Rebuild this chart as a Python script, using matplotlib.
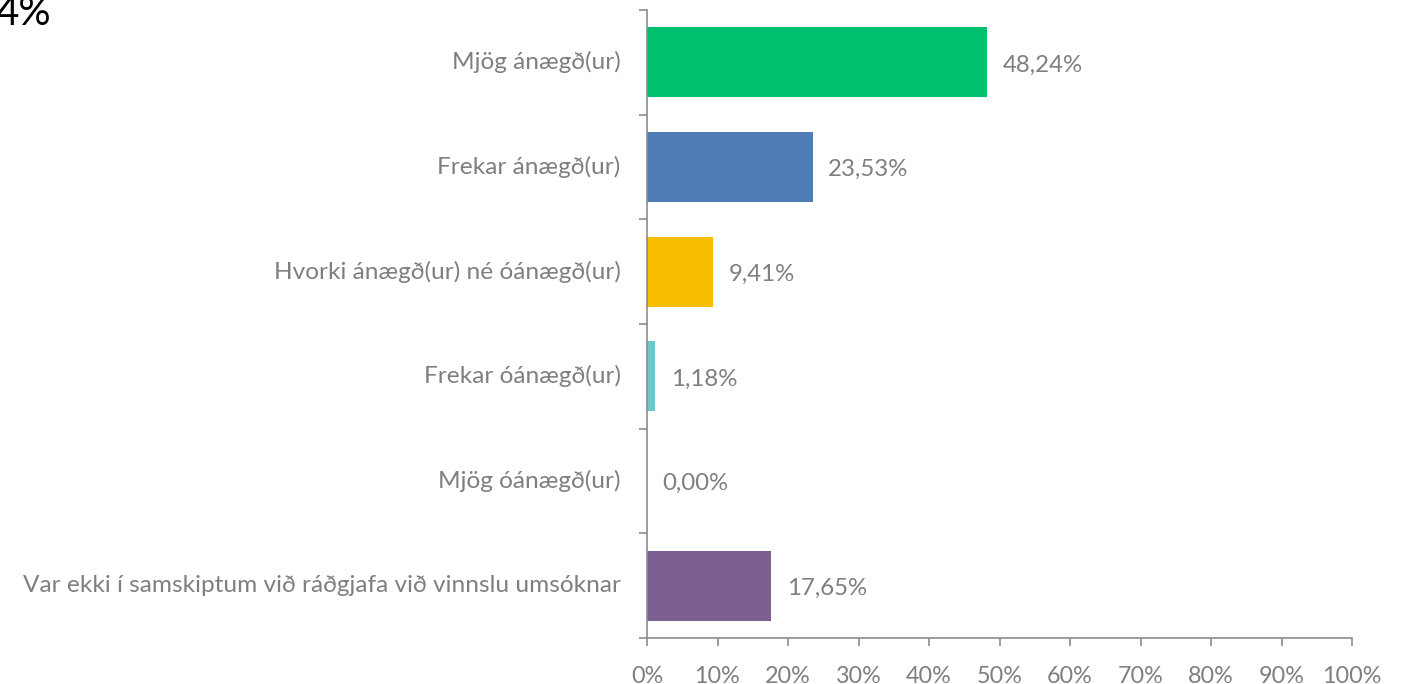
import matplotlib
matplotlib.use("Agg")
import matplotlib.pyplot as plt
from matplotlib.ticker import FixedLocator

categories = [
    "Mjög ánægð(ur)",
    "Frekar ánægð(ur)",
    "Hvorki ánægð(ur) né óánægð(ur)",
    "Frekar óánægð(ur)",
    "Mjög óánægð(ur)",
    "Var ekki í samskiptum við ráðgjafa við vinnslu umsóknar",
]
values = [48.24, 23.53, 9.41, 1.18, 0.00, 17.65]
value_labels = ["48,24%", "23,53%", "9,41%", "1,18%", "0,00%", "17,65%"]
colors = ["#00BF6F", "#507CB6", "#F9BE00", "#6BC8CD", "#D25F90", "#7D5E90"]
xticks = [0, 10, 20, 30, 40, 50, 60, 70, 80, 90, 100]
xtick_labels = [f"{t}%" for t in xticks]

plt.rcParams["font.family"] = ["Lato", "DejaVu Sans"]
gray = "#7f7f7f"
axis_gray = "#8c8c8c"

fig = plt.figure(figsize=(14.09, 6.84), dpi=100)
ax = fig.add_axes([647 / 1409, 1 - 638 / 684, (1352 - 647) / 1409, (638 - 10) / 684])

n = len(categories)
ypos = list(range(n))
ax.barh(ypos, values, height=0.67, color=colors, zorder=2)
ax.set_ylim(n - 0.5, -0.5)
ax.set_xlim(0, 100)

for y, v, lab in zip(ypos, values, value_labels):
    ax.annotate(lab, (v, y), xytext=(11, -2), textcoords="offset points",
                va="center", ha="left", fontsize=17.3, color=gray)

ax.set_yticks(ypos)
ax.set_yticklabels(categories, fontsize=17.6, color=gray, va="center")
for t in ax.get_yticklabels():
    t.set_y(t.get_position()[1])
ax.yaxis.set_minor_locator(FixedLocator([i - 0.5 for i in range(n + 1)]))
ax.tick_params(axis="y", which="major", length=0, pad=19)
ax.tick_params(axis="y", which="minor", length=6, color=axis_gray, width=1.2)

ax.set_xticks(xticks)
ax.set_xticklabels(xtick_labels, fontsize=16.8, color=gray)
ax.tick_params(axis="x", length=6, color=axis_gray, width=1.2, pad=14)

for s in ["top", "right"]:
    ax.spines[s].set_visible(False)
for s in ["left", "bottom"]:
    ax.spines[s].set_color(axis_gray)
    ax.spines[s].set_linewidth(1.2)

fig.text(-0.003, 1 - 25 / 684, "4%", fontsize=29, color="black", ha="left", va="baseline")

fig.savefig("out.png", dpi=100)
